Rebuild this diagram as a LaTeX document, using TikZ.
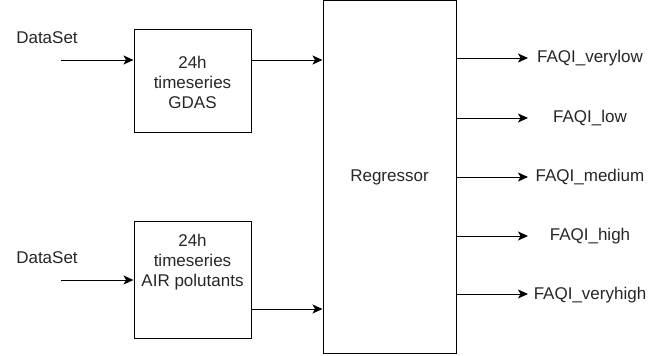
\documentclass[tikz,border=0pt]{standalone}
\usepackage{fontspec}
\setmainfont{Liberation Sans}
\usetikzlibrary{arrows.meta}
\begin{document}
\begin{tikzpicture}[x=1pt,y=-1pt,
  box/.style={draw=black,line width=1pt,inner sep=0pt},
  lbl/.style={inner sep=0pt,font=\fontsize{17}{20}\selectfont,text=black!85},
  conn/.style={line width=1pt,-{Stealth[length=10pt,width=9pt,inset=2.5pt]}}]
\useasboundingbox (0,0) rectangle (672,356);
\node[box,minimum width=133pt,minimum height=353pt] (reg) at (389.5,176.5) {};
\node[lbl] (regl) at (389.5,177) {Regressor};
\node[box,minimum width=117pt,minimum height=103pt] (gdas) at (192.5,80.5) {};
\node[lbl,align=center] (gdasl) at (192.5,82) {24h\\timeseries\\GDAS};
\node[box,minimum width=117pt,minimum height=117pt] (air) at (192.5,279.5) {};
\node[lbl,align=center] (airl) at (192.5,262) {24h\\timeseries\\AIR polutants};
\node[lbl] (ds1) at (47,38) {DataSet};
\node[lbl] (ds2) at (47,258) {DataSet};
\coordinate (in1) at (61,60);
\coordinate (in2) at (61,280);
\draw[conn] (in1) -- (gdas.west|-in1);
\draw[conn] (in2) -- (air.west|-in2);
\draw[conn] (gdas.east|-in1) -- (reg.west|-in1);
\coordinate (a2) at (0,309);
\draw[conn] (air.east|-a2) -- (reg.west|-a2);
\node[lbl] (o1) at (590,58) {FAQI\_verylow};
\node[lbl] (o2) at (590,118) {FAQI\_low};
\node[lbl] (o3) at (590,177) {FAQI\_medium};
\node[lbl] (o4) at (590,236) {FAQI\_high};
\node[lbl] (o5) at (590,295) {FAQI\_veryhigh};
\foreach \o/\y in {o1/58,o2/118,o3/177,o4/236,o5/294}{
  \coordinate (t\o) at (528,\y);
  \draw[conn] (reg.east|-t\o) -- (t\o);
}
\end{tikzpicture}
\end{document}
